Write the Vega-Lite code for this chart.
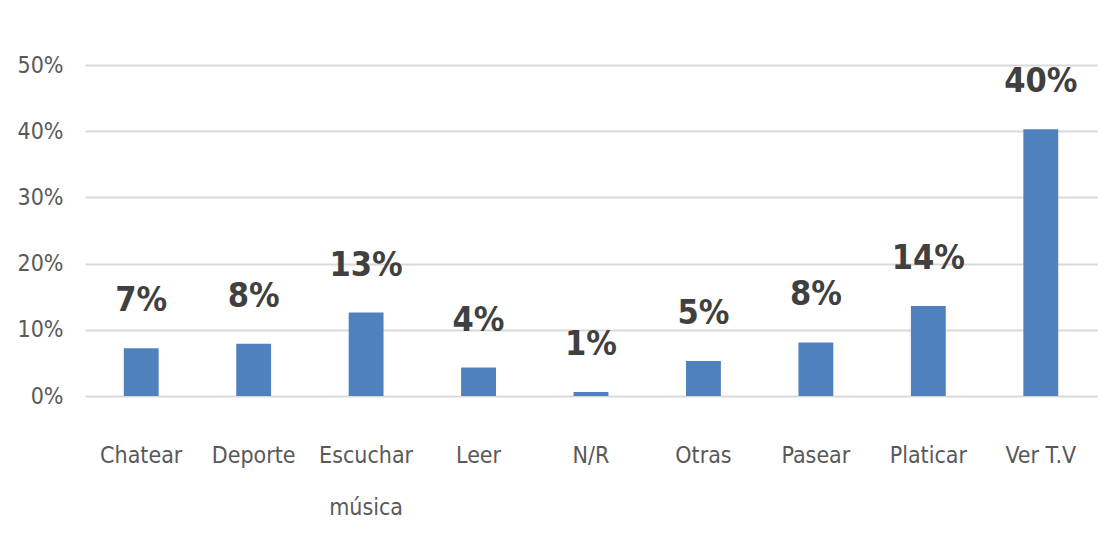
{
  "$schema": "https://vega.github.io/schema/vega-lite/v6.json",
  "width": 1012,
  "height": 331,
  "autosize": {"type": "none"},
  "padding": {"left": 85, "top": 65, "right": 15, "bottom": 160},
  "background": "white",
  "config": {
    "view": {"stroke": null},
    "font": "DejaVu Sans Condensed, sans-serif"
  },
  "data": {
    "values": [
      {"actividad": "Chatear", "pct": 0.072},
      {"actividad": "Deporte", "pct": 0.079},
      {"actividad": "Escuchar música", "pct": 0.126},
      {"actividad": "Leer", "pct": 0.043},
      {"actividad": "N/R", "pct": 0.006},
      {"actividad": "Otras", "pct": 0.053},
      {"actividad": "Pasear", "pct": 0.081},
      {"actividad": "Platicar", "pct": 0.136},
      {"actividad": "Ver T.V", "pct": 0.403}
    ]
  },
  "encoding": {
    "x": {
      "field": "actividad",
      "type": "nominal",
      "sort": null,
      "scale": {"paddingInner": 0.69, "paddingOuter": 0.345},
      "axis": {
        "title": null,
        "labelAngle": 0,
        "domain": false,
        "ticks": false,
        "labelFont": "DejaVu Sans Condensed, sans-serif",
        "labelFontSize": 23,
        "labelColor": "#595959",
        "labelPadding": 59,
        "labelLineHeight": 52,
        "labelBaseline": "middle",
        "labelExpr": "datum.label == 'Escuchar música' ? ['Escuchar', 'música'] : datum.label"
      }
    },
    "y": {
      "field": "pct",
      "type": "quantitative",
      "scale": {"domain": [0, 0.5]},
      "axis": {
        "title": null,
        "format": ".0%",
        "values": [0, 0.1, 0.2, 0.3, 0.4, 0.5],
        "domain": false,
        "ticks": false,
        "grid": true,
        "gridColor": "#d9d9d9",
        "gridWidth": 2,
        "labelFont": "DejaVu Sans Condensed, sans-serif",
        "labelFontSize": 23,
        "labelColor": "#595959",
        "labelPadding": 22
      }
    }
  },
  "layer": [
    {"mark": {"type": "bar", "color": "#4f81bd"}},
    {
      "mark": {
        "type": "text",
        "baseline": "alphabetic",
        "dy": -37,
        "fontSize": 34,
        "fontWeight": "bold",
        "color": "#404040",
        "font": "DejaVu Sans Condensed, sans-serif"
      },
      "encoding": {
        "text": {"field": "pct", "type": "quantitative", "format": ".0%"}
      }
    }
  ]
}
